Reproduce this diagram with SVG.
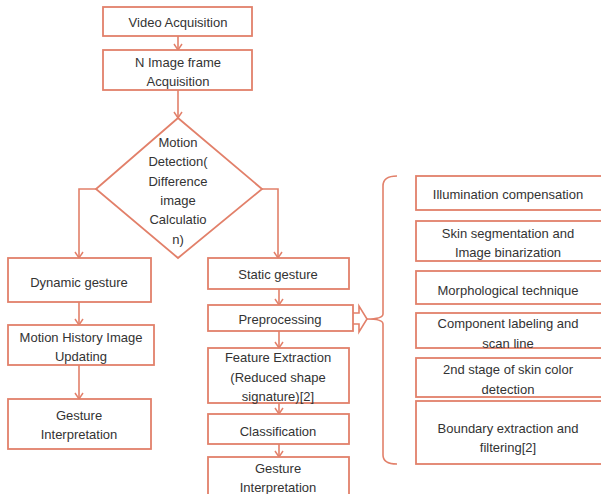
<svg xmlns="http://www.w3.org/2000/svg" width="601" height="494" viewBox="0 0 601 494">
<defs>
<style>
.b{fill:#fff;stroke:#E2806A;stroke-width:1.8}
.c{fill:none;stroke:#E2806A;stroke-width:1.6}
text{font-family:"Liberation Sans",Arial,sans-serif;font-size:13px;fill:#333;text-anchor:middle}
</style>
<marker id="ah" markerWidth="10" markerHeight="10" refX="8" refY="5" orient="auto" markerUnits="userSpaceOnUse">
<path d="M2,1 L8,5 L2,9" fill="none" stroke="#E2806A" stroke-width="1.5"/>
</marker>
</defs>
<rect width="601" height="494" fill="#fff"/>
<g id="connectors">
<line class="c" x1="178" y1="36" x2="178" y2="50" marker-end="url(#ah)"/>
<line class="c" x1="178" y1="90" x2="178" y2="118" marker-end="url(#ah)"/>
<polyline class="c" points="96,189 79,189 79,258" marker-end="url(#ah)"/>
<polyline class="c" points="262,189 278,189 278,258" marker-end="url(#ah)"/>
<line class="c" x1="79" y1="302" x2="79" y2="325" marker-end="url(#ah)"/>
<line class="c" x1="79" y1="365" x2="79" y2="399" marker-end="url(#ah)"/>
<line class="c" x1="279" y1="289" x2="279" y2="305" marker-end="url(#ah)"/>
<line class="c" x1="279" y1="331" x2="279" y2="348" marker-end="url(#ah)"/>
<line class="c" x1="279" y1="403" x2="279" y2="414" marker-end="url(#ah)"/>
<line class="c" x1="279" y1="444" x2="279" y2="457" marker-end="url(#ah)"/>
<path class="c" d="M353,313 L359,313 L359,306 L367,319 L359,332 L359,324 L353,324"/>
<path class="c" d="M397,176 Q383,176 383,186 L383,314 Q383,319 367,319 Q383,319 383,324 L383,455 Q383,464 397,464"/>
</g>
<g id="video"><rect class="b" x="103" y="7" width="149" height="29"/><text x="178" y="27">Video Acquisition</text></g>
<g id="nimage"><rect class="b" x="103" y="50" width="149" height="40"/><text x="178" y="67">N Image frame</text><text x="178" y="86">Acquisition</text></g>
<g id="motion"><polygon class="b" points="178,118 262,189 178,258 96,189"/>
<text x="178" y="147">Motion</text><text x="178" y="166">Detection(</text><text x="178" y="186">Difference</text><text x="178" y="205">image</text><text x="178" y="224">Calculatio</text><text x="178" y="244">n)</text></g>
<g id="dynamic"><rect class="b" x="8" y="258" width="143" height="44"/><text x="79" y="287">Dynamic gesture</text></g>
<g id="mhi"><rect class="b" x="8" y="325" width="146" height="40"/><text x="81" y="342">Motion History Image</text><text x="81" y="361">Updating</text></g>
<g id="gestureL"><rect class="b" x="8" y="399" width="143" height="50"/><text x="79" y="420">Gesture</text><text x="79" y="439">Interpretation</text></g>
<g id="static"><rect class="b" x="208" y="258" width="141" height="31"/><text x="278" y="279">Static gesture</text></g>
<g id="prep"><rect class="b" x="208" y="305" width="145" height="26"/><text x="280" y="324">Preprocessing</text></g>
<g id="feature"><rect class="b" x="208" y="348" width="141" height="55"/><text x="278" y="362">Feature Extraction</text><text x="278" y="382">(Reduced shape</text><text x="278" y="401">signature)[2]</text></g>
<g id="classif"><rect class="b" x="208" y="414" width="141" height="30"/><text x="278" y="436">Classification</text></g>
<g id="gestureR"><rect class="b" x="208" y="457" width="141" height="45"/><text x="278" y="473">Gesture</text><text x="278" y="492">Interpretation</text></g>
<g id="illum"><rect class="b" x="416" y="176" width="194" height="34"/><text x="508" y="199">Illumination compensation</text></g>
<g id="skin"><rect class="b" x="416" y="221" width="194" height="40"/><text x="508" y="238">Skin segmentation and</text><text x="508" y="257">Image binarization</text></g>
<g id="morph"><rect class="b" x="416" y="271" width="194" height="33"/><text x="508" y="295">Morphological technique</text></g>
<g id="comp"><rect class="b" x="416" y="313" width="194" height="35"/><text x="508" y="328">Component labeling and</text><text x="508" y="348">scan line</text></g>
<g id="stage2"><rect class="b" x="416" y="358" width="194" height="39"/><text x="508" y="374">2nd stage of skin color</text><text x="508" y="394">detection</text></g>
<g id="boundary"><rect class="b" x="416" y="401" width="194" height="63"/><text x="508" y="433">Boundary extraction and</text><text x="508" y="452">filtering[2]</text></g>
</svg>
